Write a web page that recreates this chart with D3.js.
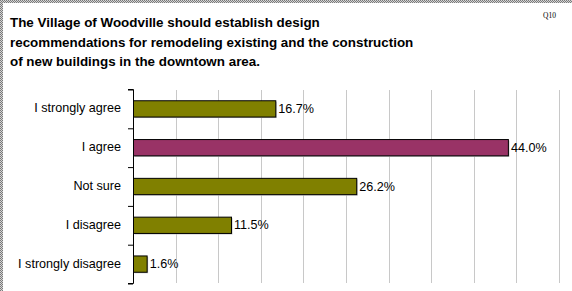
<!DOCTYPE html>
<html>
<head>
<meta charset="utf-8">
<script src="https://cdn.jsdelivr.net/npm/d3@7"></script>
<style>
  html, body { margin: 0; padding: 0; background: #fff; }
  svg { display: block; }
</style>
</head>
<body>
<div id="chart"></div>
<script>
const titleLines = [
  'The Village of Woodville should establish design',
  'recommendations for remodeling existing and the construction',
  'of new buildings in the downtown area.'
];
const questionId = 'Q10';
const categories = ['I strongly agree', 'I agree', 'Not sure', 'I disagree', 'I strongly disagree'];
const percents = [16.7, 44.0, 26.2, 11.5, 1.6];
const gridTicks = [5, 10, 15, 20, 25, 30, 35, 40, 45, 50];

const W = 572, H = 291;
const m = { t: 89, r: 13, b: 8, l: 133 };
const innerW = W - m.l - m.r;
const innerH = H - m.t - m.b;

const svg = d3.select('#chart').append('svg').attr('width', W).attr('height', H);

// hatched frame along top and left edge
const defs = svg.append('defs');
const pat = defs.append('pattern').attr('id', 'hatch')
  .attr('width', 2).attr('height', 2).attr('patternUnits', 'userSpaceOnUse');
pat.append('rect').attr('width', 2).attr('height', 2).attr('fill', '#d4d4d4');
pat.append('rect').attr('width', 1).attr('height', 1).attr('fill', '#7a7a7a');
pat.append('rect').attr('x', 1).attr('y', 1).attr('width', 1).attr('height', 1).attr('fill', '#7a7a7a');
svg.append('rect').attr('x', 0).attr('y', 0).attr('width', W).attr('height', 3).attr('fill', 'url(#hatch)');
svg.append('rect').attr('x', 0).attr('y', 0).attr('width', 3).attr('height', H).attr('fill', 'url(#hatch)');

// title
const title = svg.append('text')
  .attr('x', 10).attr('y', 27.3)
  .attr('font-family', 'Liberation Sans, Arial, sans-serif')
  .attr('font-weight', 'bold')
  .attr('font-size', '13.4px')
  .attr('fill', '#000');
title.selectAll('tspan').data(titleLines).enter().append('tspan')
  .attr('x', 10)
  .attr('dy', (d, i) => i === 0 ? 0 : 19.5)
  .text(d => d);

svg.append('text')
  .attr('x', 556).attr('y', 18)
  .attr('text-anchor', 'end')
  .attr('font-family', 'Liberation Serif, Times New Roman, serif')
  .attr('font-size', '7.5px')
  .attr('fill', '#000')
  .text(questionId);

const g = svg.append('g').attr('transform', `translate(${m.l},${m.t})`);

const x = d3.scaleLinear().domain([0, 50]).range([0, innerW]);
const y = d3.scaleBand().domain(categories).range([0, innerH]).paddingInner(0.58).paddingOuter(0.29);
const yIdx = d3.scaleLinear().domain([0, categories.length]).range([0, innerH]);

// gridlines
g.append('g')
  .attr('transform', `translate(0,${innerH})`)
  .call(d3.axisBottom(x).tickValues(gridTicks).tickSize(-(innerH - 1)).tickFormat(''))
  .call(a => a.select('.domain').remove())
  .call(a => a.selectAll('line').attr('stroke', '#c8c8c8').attr('shape-rendering', 'crispEdges'));

// bars with a faint shadow
const maxV = d3.max(percents);
const rows = categories.map((c, i) => ({ c, v: percents[i] }));

g.selectAll('rect.shadow').data(rows).enter().append('rect')
  .attr('class', 'shadow')
  .attr('x', 1.5)
  .attr('y', d => y(d.c) + 1.5)
  .attr('width', d => x(d.v))
  .attr('height', y.bandwidth())
  .attr('fill', '#bdbdbd');

g.selectAll('rect.bar').data(rows).enter().append('rect')
  .attr('class', 'bar')
  .attr('x', 0.5)
  .attr('y', d => y(d.c) + 0.5)
  .attr('width', d => x(d.v))
  .attr('height', y.bandwidth())
  .attr('fill', d => d.v === maxV ? '#993366' : '#808000')
  .attr('stroke', '#000')
  .attr('stroke-width', 1);

// value labels
g.selectAll('text.val').data(rows).enter().append('text')
  .attr('class', 'val')
  .attr('x', d => x(d.v) + 3)
  .attr('y', d => y(d.c) + y.bandwidth() / 2)
  .attr('dy', '0.36em')
  .attr('font-family', 'Liberation Sans, Arial, sans-serif')
  .attr('font-size', '12.6px')
  .attr('fill', '#000')
  .text(d => d3.format('.1f')(d.v) + '%');

// category axis: boundary ticks + labels
g.append('g')
  .call(d3.axisLeft(yIdx).tickValues(d3.range(categories.length + 1)).tickSize(5).tickFormat(''))
  .call(a => a.select('.domain').attr('d', `M-5,0.5H0.5V${innerH + 0.5}H-5`).attr('stroke', '#000'))
  .call(a => a.selectAll('line').attr('stroke', '#000').attr('transform', 'translate(0,0.5)'));

g.append('g')
  .call(d3.axisLeft(y).tickSize(0).tickPadding(12))
  .call(a => a.select('.domain').remove())
  .call(a => a.selectAll('text')
    .attr('font-family', 'Liberation Sans, Arial, sans-serif')
    .attr('font-size', '12.6px')
    .attr('fill', '#000'));
</script>
</body>
</html>
